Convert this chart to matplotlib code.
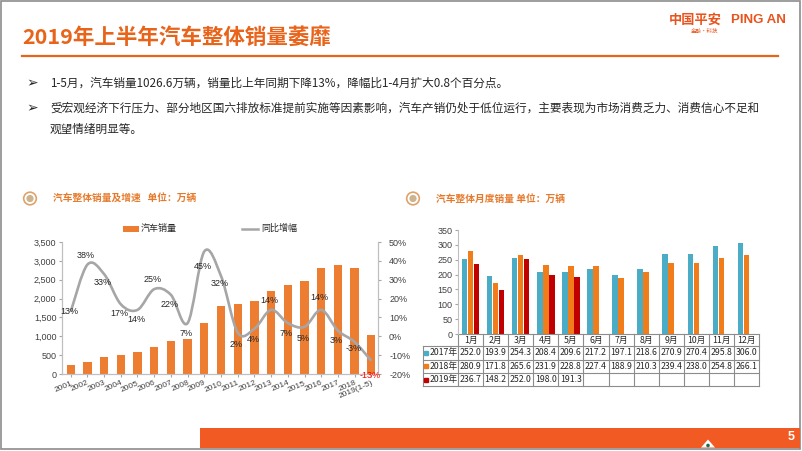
import numpy as np
import matplotlib.pyplot as plt
from matplotlib.patches import Rectangle, Circle, PathPatch, Polygon
from matplotlib.path import Path

plt.rcParams['font.family'] = ['Noto Sans CJK SC', 'DejaVu Sans']

# annual sales (万辆) and yoy growth (%)
years = ['2001', '2002', '2003', '2004', '2005', '2006', '2007', '2008', '2009', '2010',
         '2011', '2012', '2013', '2014', '2015', '2016', '2017', '2018', '2019(1-5)']
sales = [237, 325, 439, 507, 576, 722, 879, 938, 1364, 1806,
         1851, 1931, 2198, 2349, 2460, 2803, 2888, 2808, 1026.6]
growth = [13, 38, 33, 17, 14, 25, 22, 7, 45, 32, 2, 4, 14, 7, 5, 14, 3, -3, -13]

# monthly sales (万辆)
months = ['1月', '2月', '3月', '4月', '5月', '6月', '7月', '8月', '9月', '10月', '11月', '12月']
sales_2017 = [252.0, 193.9, 254.3, 208.4, 209.6, 217.2, 197.1, 218.6, 270.9, 270.4, 295.8, 306.0]
sales_2018 = [280.9, 171.8, 265.6, 231.9, 228.8, 227.4, 188.9, 210.3, 239.4, 238.0, 254.8, 266.1]
sales_2019 = [236.7, 148.2, 252.0, 198.0, 191.3]
series_names = ['2017年', '2018年', '2019年']

ORANGE = '#E8641B'
BAR_ORANGE = '#ED7D31'
GRID = '#A6A6A6'
TXT = '#262626'
NUM = 'Liberation Sans'

W, H = 802, 451
fig = plt.figure(figsize=(W / 100, H / 100), dpi=100, facecolor='white')

# slide background in pixel coordinates
bg = fig.add_axes([0, 0, 1, 1])
bg.set_xlim(0, W)
bg.set_ylim(H, 0)
bg.axis('off')

bg.add_patch(Rectangle((0.8, 0.8), 799.5, 448.5, fill=False, ec='#8C8C8C', lw=1.2))

# header
bg.text(22, 38, '2019年上半年汽车整体销量萎靡', color=ORANGE, fontsize=15.5,
        weight='bold', va='center', ha='left')
bg.plot([22, 778], [55.5, 55.5], color=ORANGE, lw=1.6)
bg.text(669, 20, '中国平安', color='#E8541E', fontsize=9.5, weight='bold', va='center')
bg.text(731, 20, 'PING AN', color='#E8541E', fontsize=9.5, weight='bold', va='center',
        family=NUM)
bg.text(705, 31, '金融·科技', color='#E8541E', fontsize=4, va='center', ha='center')

# bullets
bullets = [
    (83, '1-5月，汽车销量1026.6万辆，销量比上年同期下降13%，降幅比1-4月扩大0.8个百分点。', True),
    (108, '受宏观经济下行压力、部分地区国六排放标准提前实施等因素影响，汽车产销仍处于低位运行，主要表现为市场消费乏力、消费信心不足和', True),
    (129, '观望情绪明显等。', False),
]
for y, s, mark in bullets:
    if mark:
        bg.text(32, y, '➢', fontsize=10, color=TXT, va='center', ha='center',
                family=['DejaVu Sans'])
    bg.text(50, y, s, fontsize=8.4, color=TXT, va='center', ha='left')

# section titles
for cx, tx, s in [(30, 53, '汽车整体销量及增速   单位：万辆'), (413, 436, '汽车整体月度销量 单位：万辆')]:
    bg.add_patch(Circle((cx, 198.5), 6.3, fc='white', ec='#E0A26A', lw=1.2))
    bg.add_patch(Circle((cx, 198.5), 3.6, fc='#CDB48C', ec='none'))
    bg.text(tx, 199, s, color='#E57A2C', fontsize=7, weight='bold', va='center')

# footer band
bg.add_patch(Rectangle((200, 428), 600, 19.5, fc='#F15A22', ec='none'))
bg.text(791, 437.5, '5', color='white', fontsize=9, weight='bold', ha='center', va='center',
        family=NUM)
bg.add_patch(Polygon([(701, 447.5), (708, 439.5), (715, 447.5)], fc='white', ec='none'))
bg.add_patch(Circle((708, 445.5), 1.8, fc='#1D6B5C', ec='none'))

# ---------------- left chart ----------------
ax1 = fig.add_axes([62 / W, 1 - 374 / H, 316 / W, 132 / H])
ax1.set_facecolor('none')
x = np.arange(len(years))
ax1.bar(x, sales, width=0.5, color=BAR_ORANGE, zorder=2)
ax1.set_xlim(-0.52, 18.4)
ax1.set_ylim(0, 3500)
yt = list(range(0, 3501, 500))
ax1.set_yticks(yt, labels=[f'{v:,}' for v in yt], fontsize=6.5, family=NUM, color='#404040')
ax1.set_xticks(x, labels=years, rotation=23, ha='right', rotation_mode='anchor',
               fontsize=6, family=NUM, color='#404040')
ax1.tick_params(length=2, color=GRID, pad=2)

ax2 = ax1.twinx()
ax2.set_ylim(-20, 50)
gt = list(range(-20, 51, 10))
ax2.set_yticks(gt, labels=[f'{v}%' for v in gt], fontsize=6.5, family=NUM, color='#404040')
ax2.tick_params(length=2, color=GRID, pad=6)
for a in (ax1, ax2):
    a.spines['top'].set_visible(False)
    for s in ('left', 'right', 'bottom'):
        a.spines[s].set_color('#BFBFBF')
        a.spines[s].set_linewidth(0.8)

# smoothed growth line (cubic bezier through the points)
pts = np.column_stack([x, growth]).astype(float)
verts = [pts[0]]
codes = [Path.MOVETO]
n = len(pts)
for i in range(n - 1):
    p0 = pts[max(i - 1, 0)]
    p1 = pts[i]
    p2 = pts[i + 1]
    p3 = pts[min(i + 2, n - 1)]
    verts += [p1 + (p2 - p0) / 6, p2 - (p3 - p1) / 6, p2]
    codes += [Path.CURVE4] * 3
ax2.add_patch(PathPatch(Path(verts, codes), fill=False, ec='#A6A6A6', lw=1.9, zorder=3))

label_dy = [0, 9, -8, -9, -10, 10, -10, -10, -15, -8, -12, -11, 9, -10, -12, 12, -10, -7, -15]
for i, g in enumerate(growth):
    ax2.annotate(f'{g}%', (x[i], g), xytext=(-1, label_dy[i] * 0.72), textcoords='offset points',
                 ha='center', va='center', fontsize=6.5, family=NUM,
                 color='#FF0000' if i == n - 1 else TXT, annotation_clip=False, zorder=4)

# legend
bg.add_patch(Rectangle((123, 225.5), 16, 6, fc=BAR_ORANGE, ec='none'))
bg.text(141, 228.5, '汽车销量', fontsize=6.5, color=TXT, va='center')
bg.plot([242, 258], [228.5, 228.5], color='#A6A6A6', lw=1.8)
bg.text(261, 228.5, '同比增幅', fontsize=6.5, color=TXT, va='center')

# ---------------- right chart ----------------
ax3 = fig.add_axes([458 / W, 1 - 334 / H, 301 / W, 104 / H])
ax3.set_facecolor('none')
mx = np.arange(len(months))
colors = ['#4BACC6', '#F07D1A', '#C00000']
ax3.bar(mx - 0.24, sales_2017, 0.22, color=colors[0])
ax3.bar(mx, sales_2018, 0.22, color=colors[1])
ax3.bar(np.arange(len(sales_2019)) + 0.24, sales_2019, 0.22, color=colors[2])
ax3.set_xlim(-0.5, 11.5)
ax3.set_ylim(0, 350)
rt = list(range(0, 351, 50))
ax3.set_yticks(rt, labels=[str(v) for v in rt], fontsize=6.5, family=NUM, color='#404040')
ax3.set_xticks([])
ax3.tick_params(length=2, color=GRID, pad=2)
for s in ('top', 'right', 'bottom'):
    ax3.spines[s].set_visible(False)
ax3.spines['left'].set_color('#BFBFBF')

# data table under the chart
tr = ax3.get_xaxis_transform()
row_px = [334, 346, 359.5, 373, 386]
ry = [(334 - p) / 104 for p in row_px]
x_left = -1.91
lc = '#8C8C8C'
ax3.plot([-0.5, 11.5], [ry[0], ry[0]], color=lc, lw=0.8, transform=tr, clip_on=False)
for yy in ry[1:]:
    ax3.plot([x_left, 11.5], [yy, yy], color=lc, lw=0.8, transform=tr, clip_on=False)
for b in np.arange(-0.5, 12, 1.0):
    ax3.plot([b, b], [ry[0], ry[-1]], color=lc, lw=0.8, transform=tr, clip_on=False)
ax3.plot([x_left, x_left], [ry[1], ry[-1]], color=lc, lw=0.8, transform=tr, clip_on=False)

for i, m in enumerate(months):
    ax3.text(i, (ry[0] + ry[1]) / 2, m, fontsize=6.3, color=TXT, ha='center', va='center',
             transform=tr)
for r, (vals, name) in enumerate(zip([sales_2017, sales_2018, sales_2019], series_names)):
    yc = (ry[r + 1] + ry[r + 2]) / 2
    ax3.plot([x_left + 0.14], [yc], marker='s', ms=2.2, color=colors[r], transform=tr,
             clip_on=False)
    ax3.text(x_left + 0.28, yc, name, fontsize=6.3, color=TXT, ha='left', va='center',
             transform=tr)
    for i, v in enumerate(vals):
        ax3.text(i, yc, f'{v:.1f}', fontsize=6.3, color=TXT, ha='center', va='center',
                 transform=tr)

fig.savefig('out.png', dpi=100, facecolor='white')
